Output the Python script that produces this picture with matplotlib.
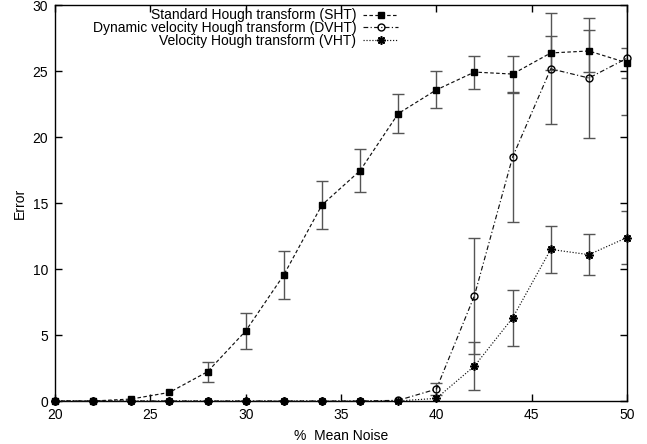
import matplotlib
matplotlib.use("Agg")
import matplotlib.pyplot as plt
import numpy as np

noise = [20, 22, 24, 26, 28, 30, 32, 34, 36, 38, 40, 42, 44, 46, 48, 50]

sht = [0, 0, 0.15, 0.65, 2.22, 5.31, 9.56, 14.87, 17.47, 21.8, 23.6, 24.95, 24.8, 26.4, 26.55, 25.65]
sht_err = [0, 0, 0, 0, 0.77, 1.34, 1.82, 1.84, 1.64, 1.5, 1.4, 1.25, 1.35, 1.3, 1.6, 1.15]

dvht = [0, 0, 0, 0, 0, 0, 0, 0, 0, 0.05, 0.9, 8.0, 18.5, 25.2, 24.5, 26.0]
dvht_err = [0, 0, 0, 0, 0, 0, 0, 0, 0, 0, 0.45, 4.4, 4.9, 4.2, 4.55, 4.3]

vht = [0, 0, 0, 0, 0, 0, 0, 0, 0, 0, 0.2, 2.65, 6.3, 11.5, 11.1, 12.4]
vht_err = [0, 0, 0, 0, 0, 0, 0, 0, 0, 0, 0, 1.8, 2.1, 1.8, 1.55, 2.0]

labels = ["Standard Hough transform (SHT)",
          "Dynamic velocity Hough transform (DVHT)",
          "Velocity Hough transform (VHT)"]

xticks = [20, 25, 30, 35, 40, 45, 50]
yticks = [0, 5, 10, 15, 20, 25, 30]

plt.rcParams['font.family'] = ['Liberation Sans', 'DejaVu Sans']
plt.rcParams['font.size'] = 10

W, H = 647, 444
fig = plt.figure(figsize=(W / 100, H / 100), dpi=100)
ax = fig.add_axes([55 / W, 1 - 401 / H, (627 - 55) / W, (401 - 5.5) / H])

series = [
    (sht, sht_err, 's', dict(markersize=4.8, markerfacecolor='black'), (0, (3, 2))),
    (dvht, dvht_err, 'o', dict(markersize=5, markerfacecolor='none', markeredgewidth=1.0), (0, (4, 2, 1, 2))),
    (vht, vht_err, (8, 2, 0), dict(markersize=6, markeredgewidth=1.2), (0, (1, 1.5))),
]

handles = []
for (y, e, m, mkw, ls), lab in zip(series, labels):
    y = np.array(y, dtype=float)
    e = np.array(e, dtype=float)
    mask = e > 0
    ax.errorbar(np.array(noise)[mask], y[mask], yerr=e[mask], fmt='none',
                ecolor='#555555', elinewidth=1.0, capsize=4, capthick=1.0, zorder=2)
    ln, = ax.plot(noise, y, color='#111111', linewidth=0.85, linestyle=ls,
                  marker=m, markeredgecolor='black', clip_on=False, zorder=3,
                  label=lab, **mkw)
    handles.append(ln)

ax.set_xlim(20, 50)
ax.set_ylim(0, 30)
ax.set_xticks(xticks)
ax.set_yticks(yticks)
ax.tick_params(direction='in', length=5, width=1, top=True, right=True,
               labelsize=10, pad=5)
for s in ax.spines.values():
    s.set_linewidth(1.0)

ax.set_xlabel("%  Mean Noise", fontsize=10, labelpad=5)
ax.set_ylabel("Error", fontsize=10, labelpad=4)

leg = ax.legend(handles=handles, loc='upper right', markerfirst=False,
                frameon=False, fontsize=10, handlelength=2.5, handletextpad=0.5,
                labelspacing=-0.1, borderpad=0, borderaxespad=0,
                bbox_to_anchor=(398 / W, 1 - 8.5 / H), bbox_transform=fig.transFigure)

fig.savefig("out.png", dpi=100)
